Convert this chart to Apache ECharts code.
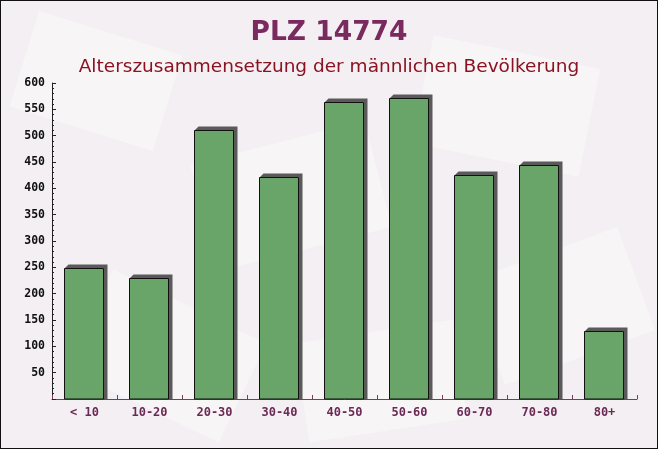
<!DOCTYPE html>
<html>
<head>
<meta charset="utf-8">
<script src="https://cdn.jsdelivr.net/npm/echarts@6/dist/echarts.min.js"></script>
<style>
  html, body { margin: 0; padding: 0; background: #fff; }
  #chart { width: 656px; height: 447px; border: 1px solid #111; }
</style>
</head>
<body>
<div id="chart"></div>
<script>
// Altersgruppen und Anzahl Männer
var ageGroups = ['< 10', '10-20', '20-30', '30-40', '40-50', '50-60', '60-70', '70-80', '80+'];
var maleCounts = [249, 229, 510, 421, 563, 572, 425, 444, 129];

var titleText = 'PLZ 14774';
var subtitleText = 'Alterszusammensetzung der männlichen Bevölkerung';

var myChart = echarts.init(document.getElementById('chart'));

// dezente Hintergrund-Flächen (nur Deko)
var deco = [
  { x: 20, y: 30, w: 150, h: 100, r: -0.3 },
  { x: 200, y: 140, w: 180, h: 110, r: 0.25 },
  { x: 420, y: 50, w: 170, h: 110, r: -0.2 },
  { x: 480, y: 250, w: 160, h: 110, r: 0.35 },
  { x: 80, y: 300, w: 170, h: 110, r: -0.45 },
  { x: 300, y: 330, w: 160, h: 100, r: 0.15 }
].map(function (d) {
  return {
    type: 'rect',
    z: -10,
    x: d.x + d.w / 2, y: d.y + d.h / 2,
    rotation: d.r,
    shape: { x: -d.w / 2, y: -d.h / 2, width: d.w, height: d.h },
    style: { fill: 'rgba(255,255,255,0.4)' },
    silent: true
  };
});

// Balken mit 3D-Kante (dunkle Seite oben und rechts)
function renderBar(params, api) {
  var idx = api.value(0);
  var top = api.coord([idx, api.value(1)]);
  var base = api.coord([idx, 0]);
  var w = api.size([1, 0])[0] * 0.6;
  var x0 = Math.round(top[0] - w / 2) - 0.5;
  var x1 = x0 + Math.round(w);
  var y0 = Math.round(top[1]) + 0.5;
  var yb = Math.round(base[1]);
  var d = 4;
  return {
    type: 'group',
    children: [
      {
        type: 'polygon',
        shape: { points: [[x0, y0], [x0 + d, y0 - d], [x1 + d, y0 - d], [x1 + d, yb], [x1, yb], [x1, y0]] },
        style: { fill: '#5b5a5b' }
      },
      {
        type: 'rect',
        shape: { x: x0, y: y0, width: x1 - x0, height: yb - y0 },
        style: { fill: '#69a469', stroke: '#111', lineWidth: 1 }
      }
    ]
  };
}

myChart.setOption({
  backgroundColor: '#f3eff2',
  animation: false,
  graphic: deco,
  title: [
    {
      text: titleText,
      left: 'center',
      top: 14,
      textStyle: { fontFamily: 'DejaVu Sans', fontWeight: 'bold', fontSize: 26.5, color: '#7a2a5e' }
    },
    {
      text: subtitleText,
      left: 'center',
      top: 52,
      textStyle: { fontFamily: 'DejaVu Sans', fontWeight: 'normal', fontSize: 18.5, color: '#8b1222' }
    }
  ],
  grid: { left: 51, right: 20, top: 82, bottom: 49 },
  xAxis: {
    type: 'category',
    data: ageGroups,
    axisLine: { lineStyle: { color: '#7b3a62', width: 1 } },
    axisTick: { show: true, inside: true, length: 4, lineStyle: { color: '#7b3a62' } },
    axisLabel: { fontFamily: 'DejaVu Sans Mono', fontWeight: 'bold', fontSize: 12, color: '#6b2a55', margin: 8 }
  },
  yAxis: {
    type: 'value',
    min: 0,
    max: 600,
    interval: 50,
    axisLine: { show: true, lineStyle: { color: '#222', width: 1 } },
    axisTick: { show: true, inside: true, length: 4, lineStyle: { color: '#222' } },
    minorTick: { show: true, splitNumber: 5, length: 2, lineStyle: { color: '#222' } },
    splitLine: { show: false },
    axisLabel: {
      fontFamily: 'DejaVu Sans Mono', fontWeight: 'bold', fontSize: 11.5, color: '#111', margin: 7,
      formatter: function (v) { return v === 0 ? '' : v; }
    }
  },
  series: [{
    type: 'custom',
    renderItem: renderBar,
    encode: { x: 0, y: 1 },
    data: maleCounts.map(function (v, i) { return [i, v]; })
  }]
});
</script>
</body>
</html>
